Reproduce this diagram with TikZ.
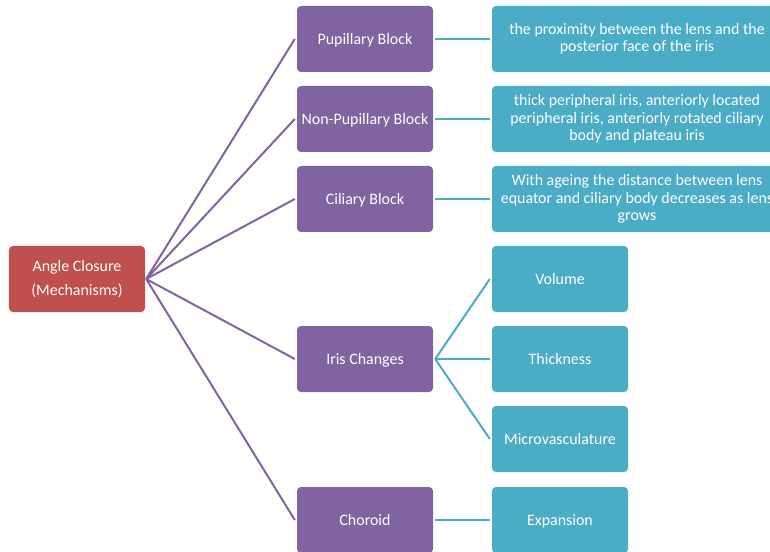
\documentclass[tikz,border=0pt]{standalone}
\usepackage{fontspec}
\setmainfont{Carlito}
\definecolor{rootred}{HTML}{C0504D}
\definecolor{purp}{HTML}{8064A2}
\definecolor{teal}{HTML}{4BACC6}
\tikzset{
  box/.style={rectangle, rounded corners=4bp, text=white, align=center,
    font=\fontsize{16}{17.5}\selectfont, inner sep=0pt, minimum height=66bp},
  oneline/.style={text height=11.4bp, text depth=0bp},
  rootbox/.style={box, fill=rootred, minimum width=136bp},
  midbox/.style={box, oneline, fill=purp, minimum width=136bp},
  leafbox/.style={box, oneline, fill=teal, minimum width=136bp},
  widebox/.style={box, fill=teal, minimum width=290bp},
  plink/.style={draw=purp, line width=2bp},
  tlink/.style={draw=teal, line width=2bp},
}
\begin{document}
\begin{tikzpicture}[x=1bp,y=-1bp]
\useasboundingbox (0,0) rectangle (770,552);
\clip (0,0) rectangle (770,552);
\node[rootbox] (root) at (77,279) {Angle Closure\\[6.5bp](Mechanisms)};
\node[midbox] (pup) at (365,39) {Pupillary Block};
\node[midbox] (npup) at (365,119) {Non-Pupillary Block};
\node[midbox] (cil) at (365,199) {Ciliary Block};
\node[midbox] (iris) at (365,359) {Iris Changes};
\node[midbox] (chor) at (365,520) {Choroid};
\node[widebox] (d1) at (637,39) {the proximity between the lens and the\\posterior face of the iris};
\node[widebox] (d2) at (637,119) {thick peripheral iris, anteriorly located\\peripheral iris, anteriorly rotated ciliary\\body and plateau iris};
\node[widebox] (d3) at (637,199) {With ageing the distance between lens\\equator and ciliary body decreases as lens\\grows};
\node[leafbox] (vol) at (560,279) {Volume};
\node[leafbox] (thk) at (560,359) {Thickness};
\node[leafbox] (mic) at (560,439) {Microvasculature};
\node[leafbox] (exp) at (560,520) {Expansion};
\foreach \t in {pup,npup,cil,iris,chor}
  \draw[plink] ([xshift=1bp]root.east) -- ([xshift=-2bp]\t.west);
\draw[tlink] ([xshift=2bp]pup.east) -- ([xshift=-2bp]d1.west);
\draw[tlink] ([xshift=2bp]npup.east) -- ([xshift=-2bp]d2.west);
\draw[tlink] ([xshift=2bp]cil.east) -- ([xshift=-2bp]d3.west);
\foreach \t in {vol,thk,mic}
  \draw[tlink] ([xshift=2bp]iris.east) -- ([xshift=-2bp]\t.west);
\draw[tlink] ([xshift=2bp]chor.east) -- ([xshift=-2bp]exp.west);
\end{tikzpicture}
\end{document}
